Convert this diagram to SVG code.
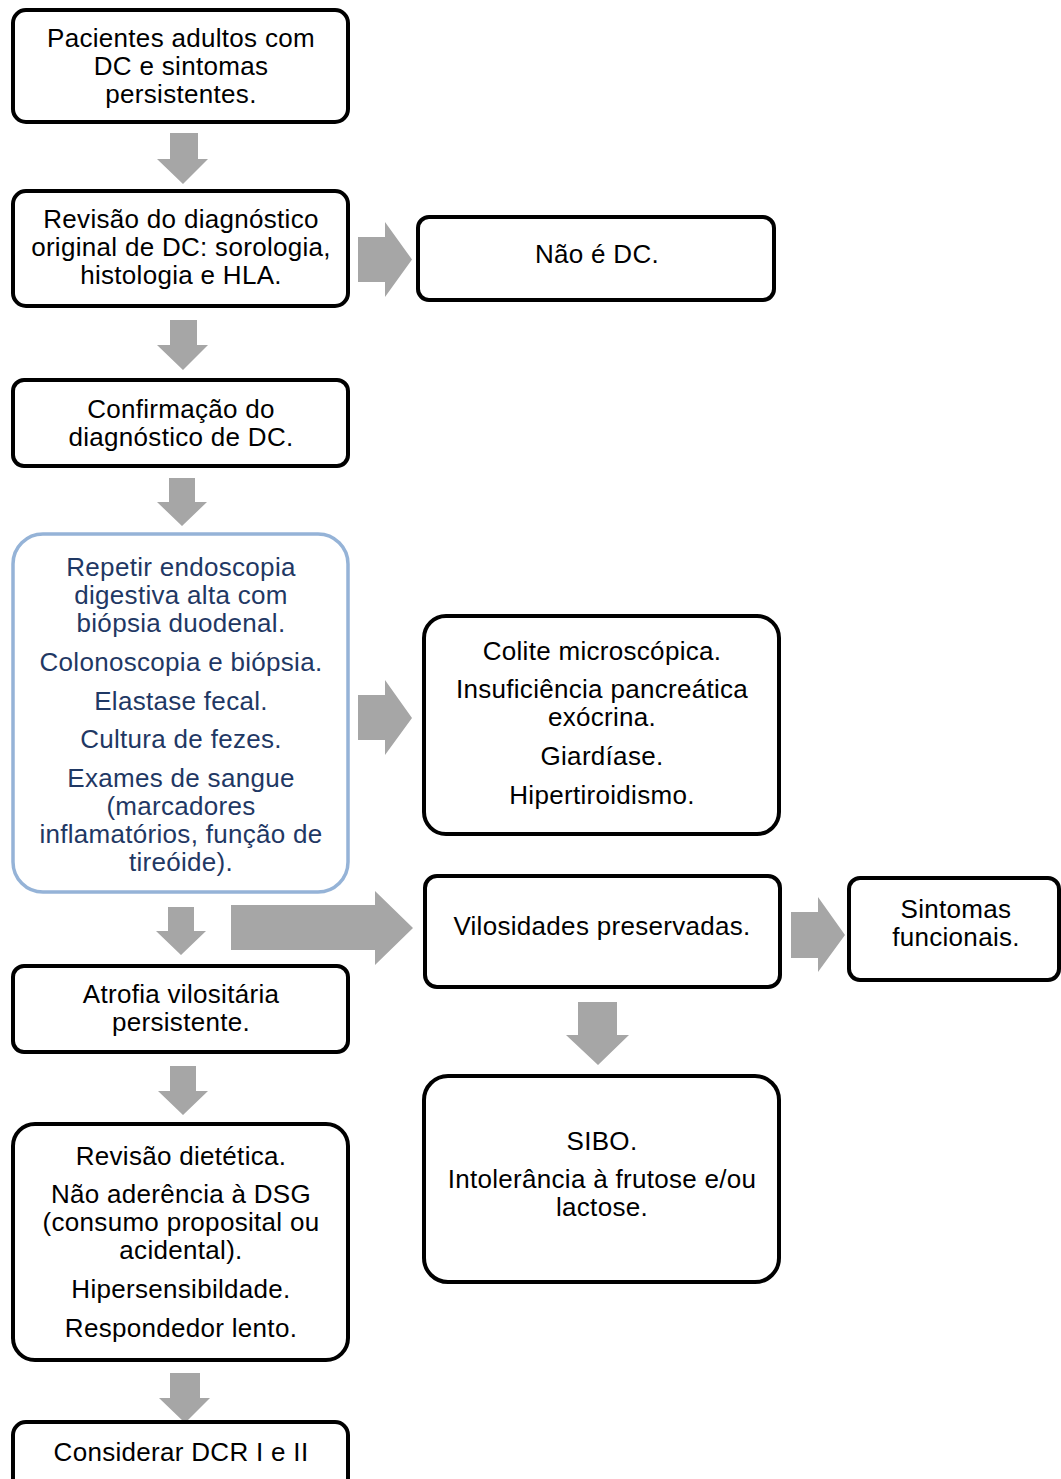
<svg xmlns="http://www.w3.org/2000/svg" width="1061" height="1479" viewBox="0 0 1061 1479">
<style>
.box{fill:#fff;stroke:#000;stroke-width:4}
.blue{fill:#fff;stroke:#95B3D7;stroke-width:3.5}
.arr{fill:#A6A6A6;stroke:none}
text{font-family:"Liberation Sans",Arial,sans-serif;font-size:26px;letter-spacing:0.3px;text-anchor:middle;fill:#000}
.nv{fill:#1F3864}
</style>
<rect width="1061" height="1479" fill="#fff"/>
<g id="connectors">
<polygon class="arr" points="170,133 198,133 198,159 208,159 183,184 157,159 170,159"/>
<polygon class="arr" points="170,320 197,320 197,345 208,345 183,370 157,345 170,345"/>
<polygon class="arr" points="169,478 195,478 195,502 207,502 182,526 157,502 169,502"/>
<polygon class="arr" points="168,907 194,907 194,931 206,931 181,955 156,931 168,931"/>
<polygon class="arr" points="170,1066 196,1066 196,1091 208,1091 183,1115 158,1091 170,1091"/>
<polygon class="arr" points="170,1373 200,1373 200,1398 210,1398 185,1423 159,1398 170,1398"/>
<polygon class="arr" points="578,1002 617,1002 617,1035 629,1035 598,1065 566,1035 578,1035"/>
<polygon class="arr" points="358,237 385,237 385,222 412,259.5 385,297 385,282 358,282"/>
<polygon class="arr" points="358,695 385,695 385,680 412,718 385,755 385,740 358,740"/>
<polygon class="arr" points="231,905 375,905 375,891 413,928 375,965 375,950 231,950"/>
<polygon class="arr" points="791,912 818,912 818,897 845,935 818,972 818,958 791,958"/>
</g>
<g id="n1"><rect class="box" x="13" y="10" width="335" height="112" rx="13"/>
<text x="181" y="47">Pacientes adultos com</text><text x="181" y="75">DC e sintomas</text><text x="181" y="103">persistentes.</text></g>
<g id="n2"><rect class="box" x="13" y="191" width="335" height="115" rx="13"/>
<text x="181" y="228">Revisão do diagnóstico</text><text x="181" y="256">original de DC: sorologia,</text><text x="181" y="284">histologia e HLA.</text></g>
<g id="n3"><rect class="box" x="418" y="217" width="356" height="83" rx="11"/>
<text x="597" y="263">Não é DC.</text></g>
<g id="n4"><rect class="box" x="13" y="380" width="335" height="86" rx="11"/>
<text x="181" y="418">Confirmação do</text><text x="181" y="446">diagnóstico de DC.</text></g>
<g id="n5"><rect class="blue" x="13" y="534" width="335" height="358" rx="30"/>
<text class="nv" x="181" y="576">Repetir endoscopia</text><text class="nv" x="181" y="604">digestiva alta com</text><text class="nv" x="181" y="632">biópsia duodenal.</text>
<text class="nv" x="181" y="671">Colonoscopia e biópsia.</text>
<text class="nv" x="181" y="710">Elastase fecal.</text>
<text class="nv" x="181" y="748">Cultura de fezes.</text>
<text class="nv" x="181" y="787">Exames de sangue</text><text class="nv" x="181" y="815">(marcadores</text><text class="nv" x="181" y="843">inflamatórios, função de</text><text class="nv" x="181" y="871">tireóide).</text></g>
<g id="n6"><rect class="box" x="424" y="616" width="355" height="218" rx="22"/>
<text x="602" y="660">Colite microscópica.</text>
<text x="602" y="698">Insuficiência pancreática</text><text x="602" y="726">exócrina.</text>
<text x="602" y="765">Giardíase.</text>
<text x="602" y="804">Hipertiroidismo.</text></g>
<g id="n7"><rect class="box" x="425" y="876" width="355" height="111" rx="12"/>
<text x="602" y="935">Vilosidades preservadas.</text></g>
<g id="n8"><rect class="box" x="849" y="878" width="210" height="102" rx="11"/>
<text x="956" y="918">Sintomas</text><text x="956" y="946">funcionais.</text></g>
<g id="n9"><rect class="box" x="424" y="1076" width="355" height="206" rx="24"/>
<text x="602" y="1150">SIBO.</text><text x="602" y="1188">Intolerância à frutose e/ou</text><text x="602" y="1216">lactose.</text></g>
<g id="n10"><rect class="box" x="13" y="966" width="335" height="86" rx="11"/>
<text x="181" y="1003">Atrofia vilositária</text><text x="181" y="1031">persistente.</text></g>
<g id="n11"><rect class="box" x="13" y="1124" width="335" height="236" rx="22"/>
<text x="181" y="1165">Revisão dietética.</text>
<text x="181" y="1203">Não aderência à DSG</text><text x="181" y="1231">(consumo proposital ou</text><text x="181" y="1259">acidental).</text>
<text x="181" y="1298">Hipersensibildade.</text>
<text x="181" y="1337">Respondedor lento.</text></g>
<g id="n12"><rect class="box" x="13" y="1422" width="335" height="100" rx="13"/>
<text x="181" y="1461">Considerar DCR I e II</text></g>
</svg>
